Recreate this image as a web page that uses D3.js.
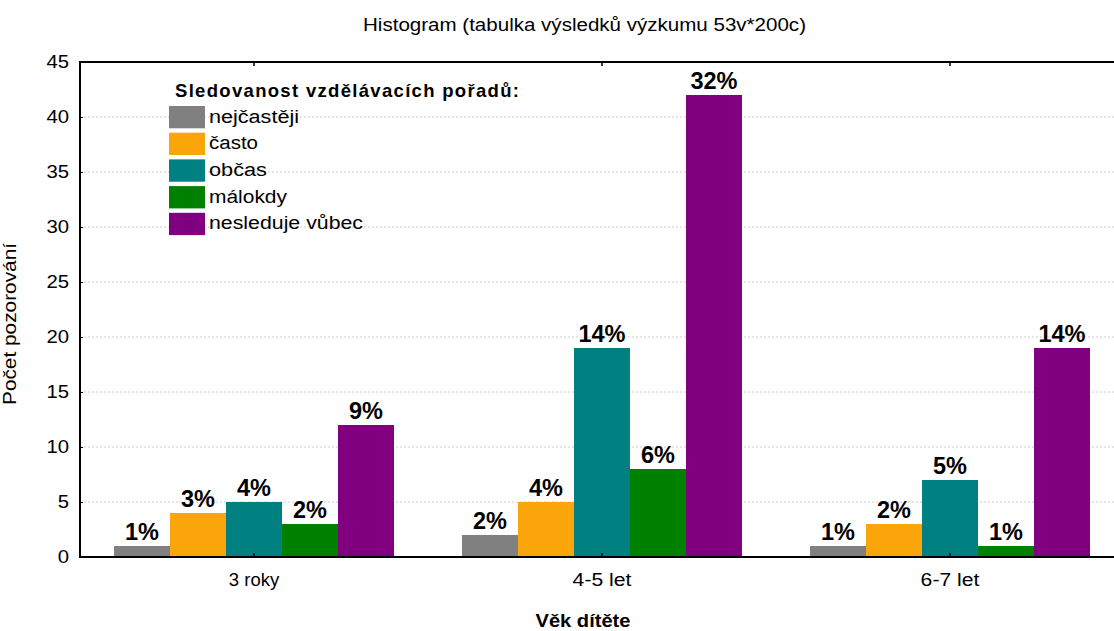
<!DOCTYPE html>
<html><head><meta charset="utf-8">
<script src="https://cdn.jsdelivr.net/npm/d3@7"></script>
<style>body{margin:0;background:#fff}svg{display:block;font-family:"Liberation Sans",Arial,sans-serif}</style>
</head><body>
<svg id="c" width="1114" height="631"></svg>
<script>
const categories = ["3 roky", "4-5 let", "6-7 let"];
const seriesNames = ["nejčastěji", "často", "občas", "málokdy", "nesleduje vůbec"];
const seriesColors = ["#808080", "#FAA50A", "#008080", "#008000", "#800080"];
const values = [
  [1, 4, 5, 3, 12],
  [2, 5, 19, 8, 42],
  [1, 3, 7, 1, 19]
];
const pctLabels = [
  ["1%", "3%", "4%", "2%", "9%"],
  ["2%", "4%", "14%", "6%", "32%"],
  ["1%", "2%", "5%", "1%", "14%"]
];
const yTicks = [0, 5, 10, 15, 20, 25, 30, 35, 40, 45];
const titleText = "Histogram (tabulka výsledků výzkumu 53v*200c)";
const legendTitle = "Sledovanost vzdělávacích pořadů:";
const xTitle = "Věk dítěte";
const yTitle = "Počet pozorování";

const svg = d3.select("#c");
const L = 80, R = 1124, T = 62, B = 557, W = 1114;
const x0 = d3.scaleBand().domain(categories).range([L, R]);
const groupW = 280;
const x1 = d3.scaleBand().domain(seriesNames).range([0, groupW]);
const y = d3.scaleLinear().domain([0, 45]).range([B, T]);
const FF = "Liberation Sans, Arial, sans-serif";

// grid
svg.append("g").selectAll("line").data(yTicks.filter(d => d > 0 && d < 45)).join("line")
  .attr("x1", L).attr("x2", W).attr("y1", d => y(d)).attr("y2", d => y(d))
  .attr("stroke", "#cccccc").attr("stroke-width", 1).attr("stroke-dasharray", "2,2");

// bars
const groups = svg.append("g").selectAll("g").data(categories).join("g")
  .attr("transform", c => `translate(${x0(c) + (x0.bandwidth() - groupW) / 2},0)`);
groups.each(function(c, ci) {
  const g = d3.select(this);
  g.selectAll("rect").data(values[ci]).join("rect")
    .attr("x", (d, i) => x1(seriesNames[i]))
    .attr("width", x1.bandwidth())
    .attr("y", d => y(d))
    .attr("height", d => B - y(d))
    .attr("fill", (d, i) => seriesColors[i]);
  g.selectAll("text").data(values[ci]).join("text")
    .attr("x", (d, i) => x1(seriesNames[i]) + x1.bandwidth() / 2)
    .attr("y", d => y(d) - 6)
    .attr("text-anchor", "middle")
    .attr("font-weight", "bold").attr("font-size", 23.5)
    .text((d, i) => pctLabels[ci][i]);
});

// frame
svg.append("line").attr("x1", L).attr("x2", W).attr("y1", T).attr("y2", T).attr("stroke", "#000").attr("stroke-width", 2);
svg.append("line").attr("x1", L).attr("x2", W).attr("y1", B).attr("y2", B).attr("stroke", "#000").attr("stroke-width", 2);
svg.append("line").attr("x1", L).attr("x2", L).attr("y1", T - 1).attr("y2", B + 1).attr("stroke", "#000").attr("stroke-width", 2);

// category ticks top/bottom
categories.forEach(c => {
  const cx = x0(c) + x0.bandwidth() / 2;
  svg.append("line").attr("x1", cx).attr("x2", cx).attr("y1", T).attr("y2", T + 4).attr("stroke", "#000").attr("stroke-width", 1.5);
  svg.append("line").attr("x1", cx).attr("x2", cx).attr("y1", B).attr("y2", B - 4).attr("stroke", "#000").attr("stroke-width", 1.5);
});

// y axis
const yAxis = d3.axisLeft(y).tickValues(yTicks).tickSize(-3).tickPadding(11).tickFormat(d3.format("d"));
const ya = svg.append("g").attr("transform", `translate(${L},0)`).call(yAxis);
ya.select(".domain").remove();
ya.selectAll("line").attr("stroke", "#000");
ya.selectAll("text").attr("font-size", 18).attr("font-family", FF).attr("fill", "#000")
  .attr("textLength", d => String(d).length * 11.3).attr("lengthAdjust", "spacingAndGlyphs");

// x axis labels
const xAxis = d3.axisBottom(x0).tickSize(0).tickPadding(0);
const xa = svg.append("g").attr("transform", `translate(0,${B})`).call(xAxis);
xa.select(".domain").remove();
xa.selectAll("text").attr("dy", null).attr("y", 29).attr("font-size", 18)
  .attr("font-family", FF).attr("fill", "#000")
  .attr("textLength", d => d.length * 8.4).attr("lengthAdjust", "spacingAndGlyphs");

// titles
svg.append("text").attr("x", 363).attr("y", 31).attr("font-size", 17.5)
  .attr("textLength", 443).attr("lengthAdjust", "spacingAndGlyphs").text(titleText);
svg.append("text").attr("x", 583).attr("y", 627).attr("text-anchor", "middle")
  .attr("font-size", 18.5).attr("font-weight", "bold")
  .attr("textLength", 95).attr("lengthAdjust", "spacingAndGlyphs").text(xTitle);
svg.append("text").attr("transform", "translate(16,324) rotate(-90)").attr("text-anchor", "middle")
  .attr("font-size", 18).attr("textLength", 162).attr("lengthAdjust", "spacingAndGlyphs").text(yTitle);

// legend
svg.append("text").attr("x", 175).attr("y", 97).attr("font-size", 18.5).attr("font-weight", "bold")
  .attr("textLength", 344).attr("lengthAdjust", "spacing").text(legendTitle);
const legW = [90, 49, 58, 78, 154];
const lg = svg.append("g").selectAll("g").data(seriesNames).join("g")
  .attr("transform", (d, i) => `translate(169,${106 + i * 26.7})`);
lg.append("rect").attr("width", 36).attr("height", 22.3).attr("fill", (d, i) => seriesColors[i]);
lg.append("text").attr("x", 40).attr("y", 16.7).attr("font-size", 18)
  .attr("textLength", (d, i) => legW[i]).attr("lengthAdjust", "spacingAndGlyphs").text(d => d);
</script>
</body></html>
